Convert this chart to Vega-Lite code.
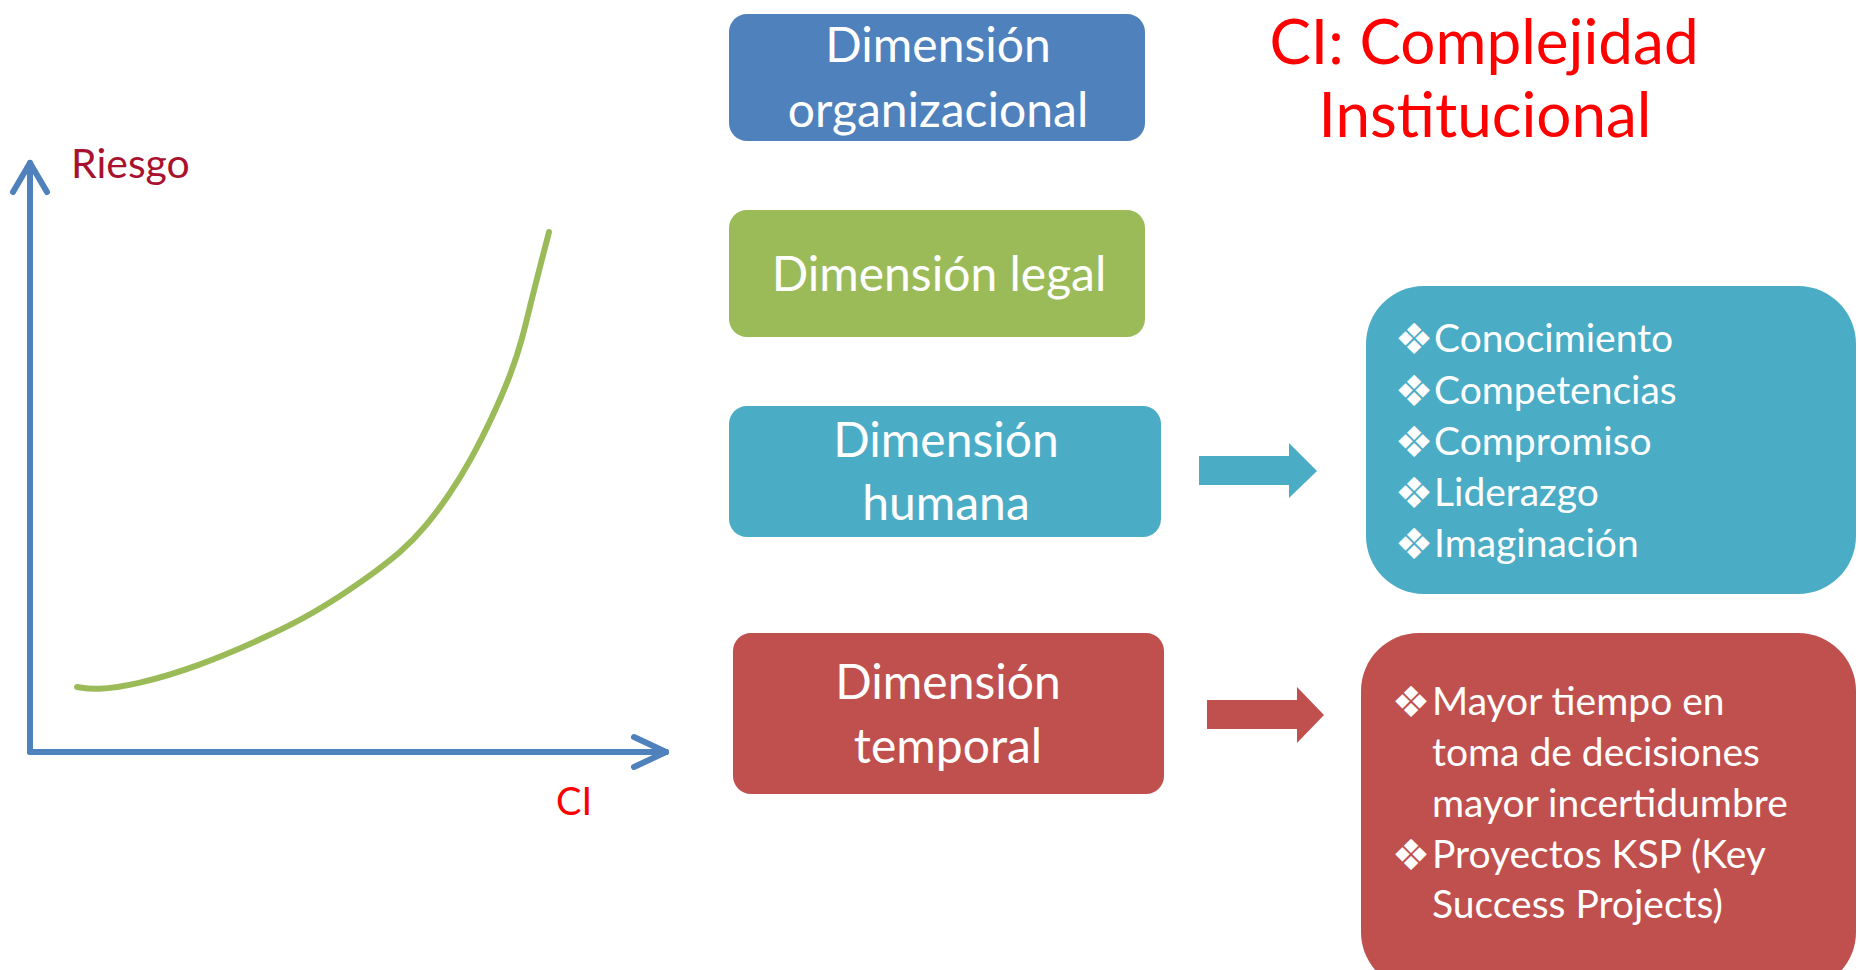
{
  "$schema": "https://vega.github.io/schema/vega-lite/v6.json",
  "width": 1860,
  "height": 970,
  "autosize": {"type": "fit", "contains": "padding"},
  "padding": 0,
  "background": "white",
  "view": {"stroke": null},
  "config": {"font": "Lato"},
  "datasets": {
    "boxes": [
      {"kind": "small", "dim": "organizacional", "x": 729, "x2": 1145, "y": 14, "y2": 141},
      {"kind": "small", "dim": "legal", "x": 729, "x2": 1145, "y": 210, "y2": 337},
      {"kind": "small", "dim": "humana", "x": 729, "x2": 1161, "y": 406, "y2": 537},
      {"kind": "small", "dim": "temporal", "x": 733, "x2": 1164, "y": 633, "y2": 794},
      {"kind": "big", "dim": "humana", "x": 1366, "x2": 1856, "y": 286, "y2": 594},
      {"kind": "big", "dim": "temporal", "x": 1361, "x2": 1856, "y": 633, "y2": 990}
    ],
    "shafts": [
      {"dim": "humana", "x": 1199, "x2": 1290, "y": 456, "y2": 485},
      {"dim": "temporal", "x": 1207, "x2": 1298, "y": 700, "y2": 729}
    ],
    "heads": [
      {"dim": "humana", "x": 1289, "y": 443, "y2": 498},
      {"dim": "humana", "x": 1317, "y": 471, "y2": 471},
      {"dim": "temporal", "x": 1297, "y": 687, "y2": 743},
      {"dim": "temporal", "x": 1324, "y": 715, "y2": 715}
    ],
    "axes": [
      {"x": 30, "y": 752, "x2": 30, "y2": 163},
      {"x": 30, "y": 752, "x2": 666, "y2": 752},
      {"x": 13, "y": 192, "x2": 30, "y2": 163},
      {"x": 47, "y": 192, "x2": 30, "y2": 163},
      {"x": 634, "y": 737, "x2": 666, "y2": 752},
      {"x": 634, "y": 767, "x2": 666, "y2": 752}
    ],
    "curve": [
      {"ci": 77, "riesgo": 687},
      {"ci": 96, "riesgo": 690},
      {"ci": 135, "riesgo": 685},
      {"ci": 197, "riesgo": 667},
      {"ci": 269, "riesgo": 636},
      {"ci": 314, "riesgo": 613},
      {"ci": 359, "riesgo": 584},
      {"ci": 404, "riesgo": 550},
      {"ci": 426, "riesgo": 526},
      {"ci": 448, "riesgo": 497},
      {"ci": 471, "riesgo": 460},
      {"ci": 493, "riesgo": 416},
      {"ci": 511, "riesgo": 374},
      {"ci": 522, "riesgo": 340},
      {"ci": 531, "riesgo": 302},
      {"ci": 541, "riesgo": 263},
      {"ci": 549, "riesgo": 232}
    ],
    "texts": [
      {"role": "box", "x": 938, "y": 62, "text": "Dimensión"},
      {"role": "box", "x": 938, "y": 127, "text": "organizacional"},
      {"role": "box", "x": 939, "y": 291, "text": "Dimensión legal"},
      {"role": "box", "x": 946, "y": 457, "text": "Dimensión"},
      {"role": "box", "x": 946, "y": 520, "text": "humana"},
      {"role": "box", "x": 948, "y": 699, "text": "Dimensión"},
      {"role": "box", "x": 948, "y": 763, "text": "temporal"},
      {"role": "item", "x": 1434, "y": 352, "text": "Conocimiento"},
      {"role": "item", "x": 1434, "y": 404, "text": "Competencias"},
      {"role": "item", "x": 1434, "y": 455, "text": "Compromiso"},
      {"role": "item", "x": 1434, "y": 506, "text": "Liderazgo"},
      {"role": "item", "x": 1434, "y": 557, "text": "Imaginación"},
      {"role": "item", "x": 1432, "y": 715, "text": "Mayor tiempo en"},
      {"role": "item", "x": 1432, "y": 766, "text": "toma de decisiones"},
      {"role": "item", "x": 1432, "y": 817, "text": "mayor incertidumbre"},
      {"role": "item", "x": 1432, "y": 868, "text": "Proyectos KSP (Key"},
      {"role": "item", "x": 1432, "y": 918, "text": "Success Projects)"},
      {"role": "bullet", "x": 1414, "y": 354, "text": "❖"},
      {"role": "bullet", "x": 1414, "y": 406, "text": "❖"},
      {"role": "bullet", "x": 1414, "y": 457, "text": "❖"},
      {"role": "bullet", "x": 1414, "y": 508, "text": "❖"},
      {"role": "bullet", "x": 1414, "y": 559, "text": "❖"},
      {"role": "bullet", "x": 1411, "y": 717, "text": "❖"},
      {"role": "bullet", "x": 1411, "y": 870, "text": "❖"},
      {"role": "title", "x": 1484, "y": 64, "text": "CI: Complejidad"},
      {"role": "title", "x": 1485, "y": 137, "text": "Institucional"},
      {"role": "riesgo", "x": 71, "y": 178, "text": "Riesgo"},
      {"role": "ci", "x": 556, "y": 815, "text": "CI"}
    ]
  },
  "layer": [
    {
      "data": {"name": "boxes"},
      "transform": [{"filter": "datum.kind === 'small'"}],
      "mark": {"type": "rect", "cornerRadius": 18},
      "encoding": {
        "x": {"field": "x", "type": "quantitative", "scale": {"domain": [0, 1860], "nice": false, "zero": false}, "axis": null},
        "x2": {"field": "x2"},
        "y": {"field": "y", "type": "quantitative", "scale": {"domain": [0, 970], "nice": false, "zero": false, "reverse": true}, "axis": null},
        "y2": {"field": "y2"},
        "color": {"field": "dim", "type": "nominal", "scale": {"domain": ["organizacional", "legal", "humana", "temporal"], "range": ["#4F81BD", "#9BBB59", "#4BACC6", "#C0504D"]}, "legend": null}
      }
    },
    {
      "data": {"name": "boxes"},
      "transform": [{"filter": "datum.kind === 'big'"}],
      "mark": {"type": "rect", "cornerRadius": 58, "clip": true},
      "encoding": {
        "x": {"field": "x", "type": "quantitative", "scale": {"domain": [0, 1860], "nice": false, "zero": false}, "axis": null},
        "x2": {"field": "x2"},
        "y": {"field": "y", "type": "quantitative", "scale": {"domain": [0, 970], "nice": false, "zero": false, "reverse": true}, "axis": null},
        "y2": {"field": "y2"},
        "color": {"field": "dim", "type": "nominal", "legend": null}
      }
    },
    {
      "data": {"name": "shafts"},
      "mark": {"type": "rect"},
      "encoding": {
        "x": {"field": "x", "type": "quantitative", "axis": null},
        "x2": {"field": "x2"},
        "y": {"field": "y", "type": "quantitative", "axis": null},
        "y2": {"field": "y2"},
        "color": {"field": "dim", "type": "nominal", "legend": null}
      }
    },
    {
      "data": {"name": "heads"},
      "mark": {"type": "area", "orient": "vertical", "interpolate": "linear"},
      "encoding": {
        "x": {"field": "x", "type": "quantitative", "axis": null},
        "y": {"field": "y", "type": "quantitative", "axis": null},
        "y2": {"field": "y2"},
        "detail": {"field": "dim"},
        "color": {"field": "dim", "type": "nominal", "legend": null}
      }
    },
    {
      "data": {"name": "axes"},
      "mark": {"type": "rule", "color": "#4F81BD", "strokeWidth": 6, "strokeCap": "round"},
      "encoding": {
        "x": {"field": "x", "type": "quantitative", "axis": null},
        "x2": {"field": "x2"},
        "y": {"field": "y", "type": "quantitative", "axis": null},
        "y2": {"field": "y2"}
      }
    },
    {
      "data": {"name": "curve"},
      "mark": {"type": "line", "color": "#9BBB59", "strokeWidth": 6, "interpolate": "basis", "strokeCap": "round"},
      "encoding": {
        "x": {"field": "ci", "type": "quantitative", "axis": null},
        "y": {"field": "riesgo", "type": "quantitative", "axis": null}
      }
    },
    {
      "data": {"name": "texts"},
      "transform": [{"filter": "datum.role === 'box'"}],
      "mark": {"type": "text", "font": "Lato", "fontSize": 48, "color": "white", "align": "center", "baseline": "alphabetic"},
      "encoding": {
        "x": {"field": "x", "type": "quantitative", "axis": null},
        "y": {"field": "y", "type": "quantitative", "axis": null},
        "text": {"field": "text"}
      }
    },
    {
      "data": {"name": "texts"},
      "transform": [{"filter": "datum.role === 'item'"}],
      "mark": {"type": "text", "font": "Lato", "fontSize": 39, "color": "white", "align": "left", "baseline": "alphabetic"},
      "encoding": {
        "x": {"field": "x", "type": "quantitative", "axis": null},
        "y": {"field": "y", "type": "quantitative", "axis": null},
        "text": {"field": "text"}
      }
    },
    {
      "data": {"name": "texts"},
      "transform": [{"filter": "datum.role === 'bullet'"}],
      "mark": {"type": "text", "font": "DejaVu Sans", "fontSize": 43, "color": "white", "align": "center", "baseline": "alphabetic"},
      "encoding": {
        "x": {"field": "x", "type": "quantitative", "axis": null},
        "y": {"field": "y", "type": "quantitative", "axis": null},
        "text": {"field": "text"}
      }
    },
    {
      "data": {"name": "texts"},
      "transform": [{"filter": "datum.role === 'title'"}],
      "mark": {"type": "text", "font": "Lato", "fontSize": 62, "color": "#FF0000", "align": "center", "baseline": "alphabetic"},
      "encoding": {
        "x": {"field": "x", "type": "quantitative", "axis": null},
        "y": {"field": "y", "type": "quantitative", "axis": null},
        "text": {"field": "text"}
      }
    },
    {
      "data": {"name": "texts"},
      "transform": [{"filter": "datum.role === 'riesgo'"}],
      "mark": {"type": "text", "font": "Lato", "fontSize": 41, "color": "#A8122E", "align": "left", "baseline": "alphabetic"},
      "encoding": {
        "x": {"field": "x", "type": "quantitative", "axis": null},
        "y": {"field": "y", "type": "quantitative", "axis": null},
        "text": {"field": "text"}
      }
    },
    {
      "data": {"name": "texts"},
      "transform": [{"filter": "datum.role === 'ci'"}],
      "mark": {"type": "text", "font": "Lato", "fontSize": 38, "color": "#FF0000", "align": "left", "baseline": "alphabetic"},
      "encoding": {
        "x": {"field": "x", "type": "quantitative", "axis": null},
        "y": {"field": "y", "type": "quantitative", "axis": null},
        "text": {"field": "text"}
      }
    }
  ]
}
